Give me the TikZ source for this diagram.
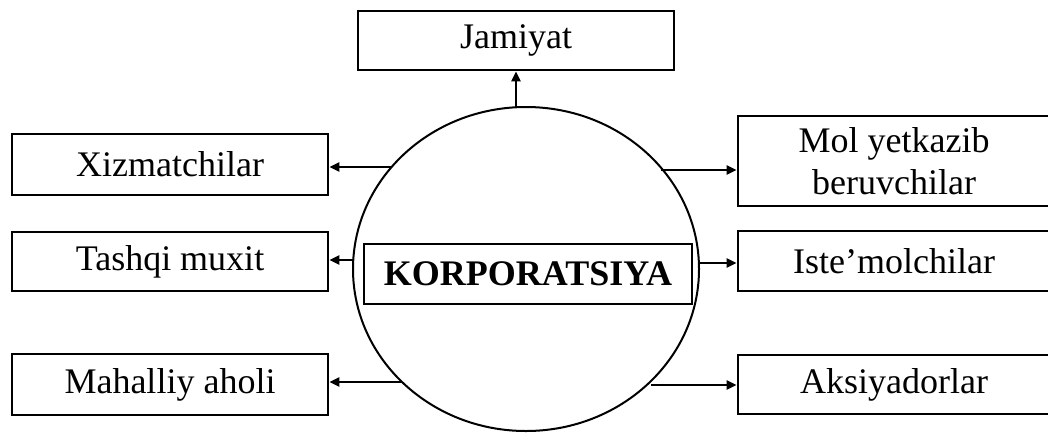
\documentclass[tikz,border=0pt]{standalone}
\usepackage{fontspec}
\setmainfont{Liberation Serif}
\usetikzlibrary{shapes.geometric,arrows.meta}
\begin{document}
\begin{tikzpicture}[x=1pt,y=-1pt,
  box/.style={draw,line width=2.8pt,rectangle,inner sep=0pt,minimum width=316pt,align=center,font=\fontsize{36}{42}\selectfont},
  conn/.style={line width=2.4pt,-{Triangle[length=10pt,width=9pt]}},
  corp/.style={draw,line width=2pt,ellipse,inner sep=0pt,minimum width=346pt,minimum height=324pt}]
\useasboundingbox (0,0) rectangle (1048,432);
\node[corp] (C) at (526,269) {};
\node[box,minimum width=328pt,minimum height=60pt,font=\fontsize{36}{42}\selectfont\bfseries] (K) at (528,274) {KORPORATSIYA};
\node[box,minimum height=59pt] (jam) at (516,40.5) {Jamiyat};
\node[box,minimum height=61pt] (xiz) at (170,164.5) {Xizmatchilar};
\node[box,minimum height=59pt] (tas) at (170,261.5) {Tashqi muxit};
\node[box,minimum height=61pt] (mah) at (170,384.5) {Mahalliy aholi};
\node[box,minimum width=312pt,minimum height=90pt] (mol) at (894,161) {Mol yetkazib\\beruvchilar};
\node[box,minimum width=312pt,minimum height=60pt] (ist) at (894,261) {Iste’molchilar};
\node[box,minimum width=312pt,minimum height=59pt] (aks) at (894,384.5) {Aksiyadorlar};
\coordinate (t0) at (516,107.3);
\coordinate (l1) at (391.5,167);
\coordinate (l2) at (353.5,260);
\coordinate (l3) at (402,382);
\coordinate (r1) at (660.5,170);
\coordinate (r2) at (698.5,263);
\coordinate (r3) at (651,385);
\draw[conn] (t0) -- (t0 |- jam.south);
\draw[conn] (l1) -- (l1 -| xiz.east);
\draw[conn] (l2) -- (l2 -| tas.east);
\draw[conn] (l3) -- (l3 -| mah.east);
\draw[conn] (r1) -- (r1 -| mol.west);
\draw[conn] (r2) -- (r2 -| ist.west);
\draw[conn] (r3) -- (r3 -| aks.west);
\end{tikzpicture}
\end{document}
